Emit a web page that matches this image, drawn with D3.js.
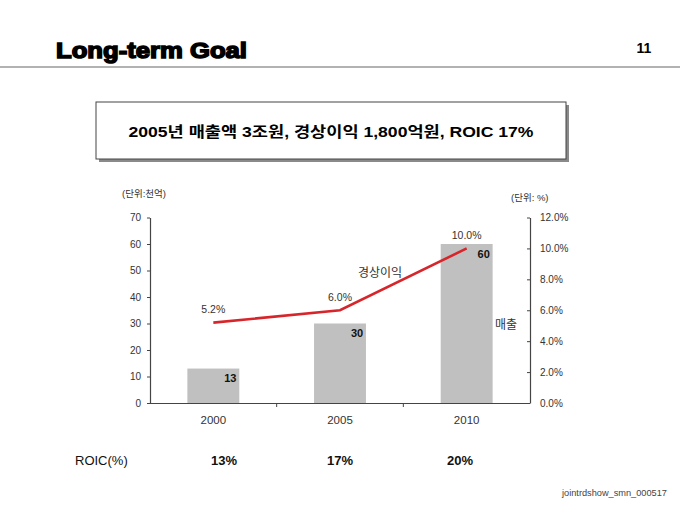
<!DOCTYPE html>
<html>
<head>
<meta charset="utf-8">
<script src="https://d3js.org/d3.v7.min.js"></script>
<style>
  body { margin: 0; background: #fff; }
  text { font-family: "Liberation Sans", Arial, "Noto Sans CJK KR", sans-serif; }
  .kr { font-family: "Liberation Sans", "Noto Sans CJK KR", sans-serif; }
</style>
</head>
<body>
<script>
// data
var years = ["2000", "2005", "2010"];
var sales = [13, 30, 60];          // 매출 (천억)
var margin = [5.2, 6.0, 10.0];     // 경상이익률 (%)
var roic = ["13%", "17%", "20%"];
var leftTicks = [0, 10, 20, 30, 40, 50, 60, 70];
var rightTicks = [0, 2, 4, 6, 8, 10, 12];

var width = 680, height = 510;

var svg = d3.select("body").append("svg")
  .attr("width", width)
  .attr("height", height);

// header
svg.append("text")
  .attr("x", 56).attr("y", 58)
  .attr("font-size", 22).attr("font-weight", "bold")
  .attr("stroke", "#000").attr("stroke-width", 1.5)
  .attr("textLength", 191).attr("lengthAdjust", "spacingAndGlyphs")
  .text("Long-term Goal");

svg.append("text")
  .attr("x", 644).attr("y", 53)
  .attr("text-anchor", "middle")
  .attr("font-size", 14).attr("font-weight", "bold")
  .text("11");

svg.append("line")
  .attr("x1", 0).attr("x2", width)
  .attr("y1", 67).attr("y2", 67)
  .attr("stroke", "#999").attr("stroke-width", 1.5);

// headline box
svg.append("rect")
  .attr("x", 99).attr("y", 105).attr("width", 470).attr("height", 57)
  .attr("fill", "#8a8a8a");
svg.append("rect")
  .attr("x", 96).attr("y", 102).attr("width", 470).attr("height", 57)
  .attr("fill", "#fff").attr("stroke", "#444").attr("stroke-width", 1);
svg.append("text")
  .attr("class", "kr")
  .attr("x", 331).attr("y", 137)
  .attr("text-anchor", "middle")
  .attr("font-size", 15).attr("font-weight", "bold")
  .attr("textLength", 405).attr("lengthAdjust", "spacingAndGlyphs")
  .text("2005년 매출액 3조원, 경상이익 1,800억원, ROIC 17%");

// chart
var plot = { left: 150, right: 530, top: 217.5, bottom: 403 };

var x = d3.scaleBand()
  .domain(years)
  .range([plot.left, plot.right])
  .paddingInner(0.59).paddingOuter(0.295);

var band = d3.scaleBand().domain(years).range([plot.left, plot.right]);

var yL = d3.scaleLinear().domain([0, 70]).range([plot.bottom, plot.top]);
var yR = d3.scaleLinear().domain([0, 12]).range([plot.bottom, plot.top]);

// bars
svg.append("g").selectAll("rect")
  .data(sales)
  .enter().append("rect")
  .attr("x", function(d, i) { return x(years[i]); })
  .attr("y", function(d) { return yL(d); })
  .attr("width", x.bandwidth())
  .attr("height", function(d) { return plot.bottom - yL(d); })
  .attr("fill", "#c0c0c0");

svg.append("g").selectAll("text")
  .data(sales)
  .enter().append("text")
  .attr("x", function(d, i) { return band(years[i]) + band.bandwidth() / 2 + 17; })
  .attr("y", function(d) { return yL(d) + 13.5; })
  .attr("text-anchor", "middle")
  .attr("font-family", "'Liberation Serif', 'DejaVu Serif', serif")
  .attr("font-size", 11).attr("font-weight", "bold")
  .attr("fill", "#111")
  .text(function(d) { return d; });

// axes
var axisL = d3.axisLeft(yL).tickValues(leftTicks).tickSize(3).tickSizeOuter(0).tickPadding(6);
var gL = svg.append("g").attr("transform", "translate(" + plot.left + ",0)").call(axisL);

var axisR = d3.axisRight(yR).tickValues(rightTicks).tickSize(-3).tickSizeOuter(0).tickPadding(10)
  .tickFormat(function(d) { return d3.format(".1f")(d) + "%"; });
var gR = svg.append("g").attr("transform", "translate(" + plot.right + ",0)").call(axisR);

var axisX = d3.axisBottom(band).tickSize(0).tickSizeOuter(0).tickPadding(13);
var gX = svg.append("g").attr("transform", "translate(0," + plot.bottom + ")").call(axisX);

// category separator ticks below the baseline
svg.append("g").selectAll("line")
  .data(years.slice(1))
  .enter().append("line")
  .attr("x1", function(d) { return band(d); })
  .attr("x2", function(d) { return band(d); })
  .attr("y1", plot.bottom).attr("y2", plot.bottom + 4)
  .attr("stroke", "#444");

[gL, gR, gX].forEach(function(g) {
  g.selectAll("path").attr("stroke", "#444").attr("stroke-width", 1.2);
  g.selectAll("line").attr("stroke", "#444");
  g.selectAll("text")
    .attr("font-family", "'Liberation Sans', Arial, sans-serif")
    .attr("font-size", 10).attr("fill", "#333");
});
gX.selectAll("text").attr("font-size", 11.5);
gX.select("path").attr("d", "M" + plot.left + ",0.5H" + plot.right);

// line
var line = d3.line()
  .x(function(d, i) { return band(years[i]) + band.bandwidth() / 2; })
  .y(function(d) { return yR(d); });

svg.append("path")
  .datum(margin)
  .attr("d", line)
  .attr("fill", "none")
  .attr("stroke", "#d7262b")
  .attr("stroke-width", 2.6);

svg.append("g").selectAll("text")
  .data(margin)
  .enter().append("text")
  .attr("x", function(d, i) { return band(years[i]) + band.bandwidth() / 2; })
  .attr("y", function(d) { return yR(d) - 9.5; })
  .attr("text-anchor", "middle")
  .attr("font-size", 10.5).attr("fill", "#333")
  .text(function(d) { return d3.format(".1f")(d) + "%"; });

// series labels and units
svg.append("text").attr("class", "kr")
  .attr("x", 380).attr("y", 277)
  .attr("text-anchor", "middle").attr("font-size", 12).attr("fill", "#333")
  .text("경상이익");
svg.append("text").attr("class", "kr")
  .attr("x", 506).attr("y", 329)
  .attr("text-anchor", "middle").attr("font-size", 12).attr("fill", "#333")
  .text("매출");
svg.append("text").attr("class", "kr")
  .attr("x", 122).attr("y", 197)
  .attr("font-size", 9.5).attr("fill", "#333")
  .text("(단위:천억)");
svg.append("text").attr("class", "kr")
  .attr("x", 511).attr("y", 201)
  .attr("font-size", 9.5).attr("fill", "#333")
  .text("(단위: %)");

// ROIC row
svg.append("text")
  .attr("x", 75).attr("y", 465)
  .attr("font-size", 13).attr("fill", "#111")
  .text("ROIC(%)");

svg.append("g").selectAll("text")
  .data(roic)
  .enter().append("text")
  .attr("x", function(d, i) { return [224, 340, 460][i]; })
  .attr("y", 465)
  .attr("text-anchor", "middle")
  .attr("font-size", 13).attr("font-weight", "bold").attr("fill", "#111")
  .text(function(d) { return d; });

// footer
svg.append("text")
  .attr("x", 667).attr("y", 496)
  .attr("text-anchor", "end")
  .attr("font-size", 9.5).attr("fill", "#444")
  .attr("textLength", 105).attr("lengthAdjust", "spacingAndGlyphs")
  .text("jointrdshow_smn_000517");
</script>
</body>
</html>
